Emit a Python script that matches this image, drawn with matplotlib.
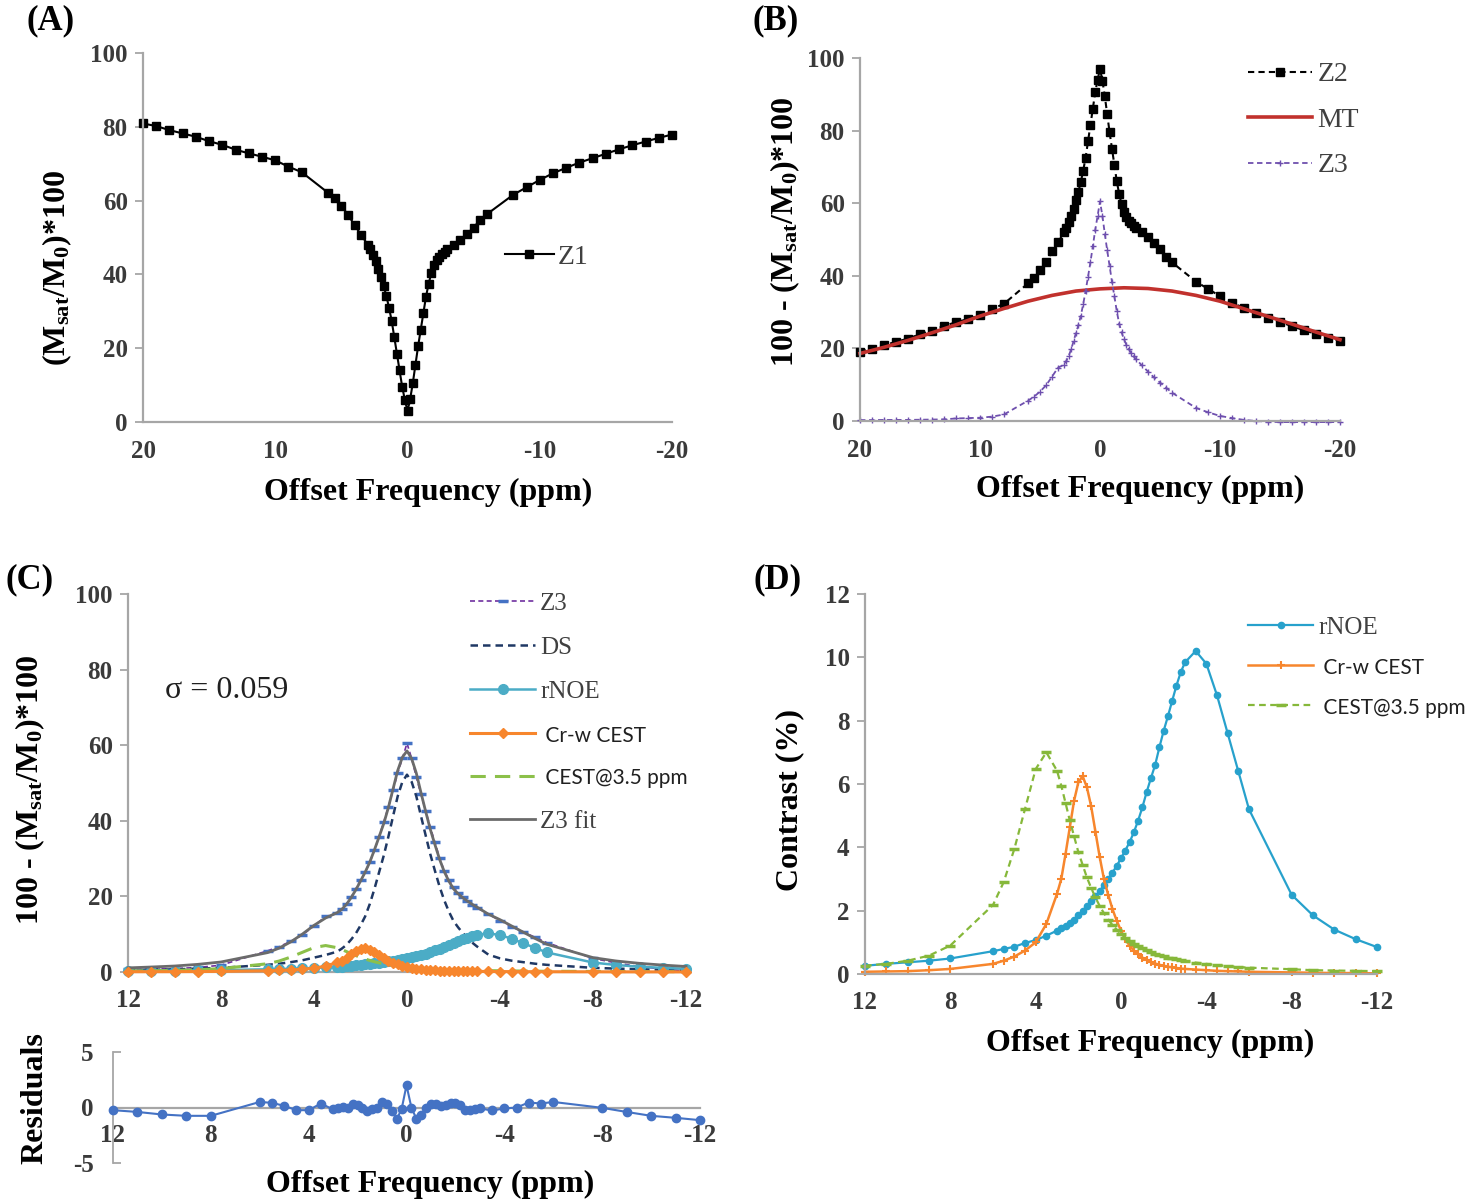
import matplotlib
matplotlib.use('Agg')
import matplotlib.pyplot as plt
from matplotlib.lines import Line2D

plt.rcParams['font.family'] = ['Liberation Serif', 'DejaVu Serif']
plt.rcParams['mathtext.fontset'] = 'custom'
plt.rcParams['mathtext.rm'] = 'Liberation Serif:bold'
plt.rcParams['mathtext.it'] = 'Liberation Serif:bold'
plt.rcParams['mathtext.bf'] = 'Liberation Serif:bold'
plt.rcParams['mathtext.default'] = 'rm'

# ---------------- data ----------------
ppm_ab = [20, 19, 18, 17, 16, 15, 14, 13, 12, 11, 10, 9, 8,
          6, 5.5, 5, 4.5, 4, 3.5,
          3.0, 2.8, 2.6, 2.4, 2.2, 2.0, 1.8, 1.6, 1.4, 1.2, 1.0, 0.8, 0.6, 0.4, 0.2, 0.0,
          -0.2, -0.4, -0.6, -0.8, -1.0, -1.2, -1.4, -1.6, -1.8, -2.0, -2.2, -2.4, -2.6, -2.8, -3.0,
          -3.5, -4, -4.5, -5, -5.5, -6,
          -8, -9, -10, -11, -12, -13, -14, -15, -16, -17, -18, -19, -20]

z1 = [80.9, 80.2, 79.1, 78.2, 77.3, 76.1, 75.1, 73.8, 72.8, 71.9, 70.9, 69.2, 67.7,
      62.1, 60.7, 58.5, 56.2, 53.3, 50.7,
      48.0, 46.8, 45.2, 43.5, 41.5, 39.2, 36.8, 34.2, 31.0, 27.5, 23.0, 18.5, 14.0, 9.5, 6.0, 3.0,
      6.2, 10.5, 15.5, 20.5, 25.0, 29.5, 34.0, 37.5, 40.3, 42.5, 43.8, 44.8, 45.5, 46.2, 46.8,
      48.0, 49.3, 51.0, 52.7, 54.8, 56.3,
      61.6, 63.6, 65.6, 67.4, 68.9, 70.3, 71.5, 72.7, 73.9, 75.0, 76.0, 77.0, 77.9]

z3 = [0.25, 0.25, 0.3, 0.3, 0.3, 0.35, 0.4, 0.45, 0.7, 0.8, 0.9, 1.2, 1.8,
      5.6, 6.7, 8.1, 9.8, 12.2, 14.7,
      15.5, 16.6, 18.0, 19.8, 22.0, 24.3, 26.4, 29.0, 32.2, 35.8, 39.7, 43.7, 48.1, 52.6, 56.5, 60.5,
      56.5, 51.6, 47.0, 42.7, 38.3, 34.3, 30.2, 26.8, 24.4, 22.5, 21.0, 19.8, 18.7, 17.8, 17.0,
      15.3, 13.6, 12.0, 10.6, 9.2, 7.8,
      3.6, 2.4, 1.4, 0.8, 0.3, 0.0, -0.2, -0.3, -0.3, -0.3, -0.3, -0.3, -0.3]

ppm_mt = [20, 18, 16, 14, 12, 10, 8, 6, 4, 2, 0, -2, -4, -6, -8, -10, -12, -14, -16, -18, -20]
mt = [18.6, 20.3, 22.2, 24.3, 26.5, 28.9, 31.0, 33.0, 34.6, 35.8, 36.4, 36.7, 36.5, 35.8,
      34.6, 33.0, 30.9, 28.8, 26.7, 24.5, 22.4]

ppm_cd = [12, 11, 10, 9, 8, 6, 5.5, 5, 4.5, 4, 3.5,
          3.0, 2.8, 2.6, 2.4, 2.2, 2.0, 1.8, 1.6, 1.4, 1.2, 1.0, 0.8, 0.6, 0.4, 0.2, 0.0,
          -0.2, -0.4, -0.6, -0.8, -1.0, -1.2, -1.4, -1.6, -1.8, -2.0, -2.2, -2.4, -2.6, -2.8, -3.0,
          -3.5, -4, -4.5, -5, -5.5, -6, -8, -9, -10, -11, -12]

ds = [0.5, 0.6, 0.7, 0.9, 1.1, 1.9, 2.2, 2.6, 3.1, 3.8, 4.5,
      5.4, 6.2, 7.2, 8.6, 10.2, 12.3, 14.7, 18.0, 22.0, 26.4, 30.8, 35.8, 41.2, 46.5, 50.3, 52.2,
      50.3, 46.5, 41.3, 36.2, 31.2, 26.8, 22.6, 19.0, 16.0, 13.5, 11.8, 10.3, 9.0, 7.8, 6.8,
      4.6, 3.6, 3.0, 2.6, 2.2, 1.9, 1.1, 0.9, 0.75, 0.6, 0.5]

rnoe = [0.26, 0.32, 0.37, 0.42, 0.49, 0.72, 0.79, 0.86, 0.98, 1.07, 1.21,
        1.37, 1.45, 1.53, 1.62, 1.72, 1.85, 2.0, 2.14, 2.3, 2.46, 2.62, 2.8, 3.0, 3.2, 3.42, 3.65,
        3.9, 4.16, 4.47, 4.84, 5.26, 5.74, 6.18, 6.6, 7.16, 7.68, 8.14, 8.63, 9.11, 9.53, 9.84,
        10.2, 9.8, 8.8, 7.6, 6.4, 5.2, 2.5, 1.85, 1.4, 1.1, 0.85]

crw = [0.07, 0.08, 0.09, 0.12, 0.16, 0.32, 0.42, 0.55, 0.74, 1.0, 1.58,
       2.53, 3.0, 3.79, 4.63, 5.47, 6.05, 6.25, 5.9, 5.3, 4.5, 3.7, 3.0, 2.5, 2.05, 1.68, 1.37,
       1.1, 0.9, 0.74, 0.62, 0.52, 0.44, 0.38, 0.33, 0.29, 0.26, 0.23, 0.21, 0.19, 0.17, 0.16,
       0.14, 0.12, 0.1, 0.09, 0.08, 0.07, 0.05, 0.04, 0.03, 0.03, 0.02]

cest35 = [0.26, 0.32, 0.42, 0.58, 0.9, 2.18, 2.9, 3.95, 5.21, 6.47, 7.0,
          6.42, 5.95, 5.4, 4.85, 4.35, 3.85, 3.45, 3.05, 2.72, 2.42, 2.15, 1.92, 1.72, 1.55, 1.4, 1.27,
          1.15, 1.05, 0.96, 0.88, 0.81, 0.75, 0.69, 0.64, 0.6, 0.56, 0.52, 0.49, 0.46, 0.43, 0.41,
          0.36, 0.32, 0.28, 0.25, 0.22, 0.2, 0.15, 0.12, 0.11, 0.1, 0.09]

resid = [-0.24, -0.4, -0.63, -0.75, -0.75, 0.5, 0.42, 0.15, -0.24, -0.24, 0.36,
         -0.18, -0.03, 0.06, -0.09, 0.3, 0.2, -0.03, -0.33, -0.18, -0.03, 0.5, 0.33, -0.33, -1.05, -0.15, 2.0,
         0.0, -1.0, -0.7, -0.03, 0.36, 0.33, 0.12, 0.27, 0.39, 0.45, 0.2, -0.27, -0.24, -0.18, -0.09,
         -0.27, -0.09, 0.0, 0.45, 0.36, 0.5, -0.03, -0.4, -0.75, -0.93, -1.14]

sigma_text = 'σ = 0.059'

z2 = [100 - v for v in z1]                       # 100 - (Msat/M0)*100
z3_c = [v for p, v in zip(ppm_ab, z3) if abs(p) <= 12]
z3_fit = [a + b + c + d for a, b, c, d in zip(ds, rnoe, crw, cest35)]

ticks_ab = [20, 10, 0, -10, -20]
ticks_cd = [12, 8, 4, 0, -4, -8, -12]

# ---------------- styling ----------------
W, H = 1468, 1204
fig = plt.figure(figsize=(W / 100, H / 100), dpi=100)

SPINE = '#A6A6A6'
TICKC = '#3A3A3A'
TS = 18
SANS = ['Lato', 'DejaVu Sans']


def ax_at(x0, x1, y_top, y_bot):
    return fig.add_axes([x0 / W, 1 - y_bot / H, (x1 - x0) / W, (y_bot - y_top) / H])


def style(ax, xt, yt, xlim, ylim, xpad=13):
    for s in ['top', 'right']:
        ax.spines[s].set_visible(False)
    for s in ['left', 'bottom']:
        ax.spines[s].set_color(SPINE)
        ax.spines[s].set_linewidth(1.6)
    ax.set_xlim(*xlim)
    ax.set_ylim(*ylim)
    ax.set_xticks(xt, labels=[str(t) for t in xt], fontweight='bold', fontsize=TS, color=TICKC)
    ax.set_yticks(yt, labels=[str(t) for t in yt], fontweight='bold', fontsize=TS, color=TICKC)
    ax.tick_params(axis='y', direction='out', length=6, width=1.3, color=SPINE, pad=5)
    ax.tick_params(axis='x', length=0, pad=xpad)
    ax.patch.set_alpha(0)


def ftext(x, y, s, **kw):
    fig.text(x / W, 1 - y / H, s, ha='center', va='center', **kw)


LBL = 23
YLBL = '100 - (M$_{sat}$/M$_0$)*100'

# ---------------- Panel A ----------------
axA = ax_at(143, 672, 53, 422)
style(axA, ticks_ab, [0, 20, 40, 60, 80, 100], (20, -20), (0, 100))
axA.plot(ppm_ab, z1, color='black', lw=1.5, marker='s', ms=5.5, clip_on=False, label='Z1')
axA.legend(loc='center left', bbox_to_anchor=(505 / W, 1 - 257 / H), bbox_transform=fig.transFigure,
           frameon=False, fontsize=20, handlelength=1.75, handletextpad=0.15, borderpad=0,
           borderaxespad=0, labelcolor='#404040')
ftext(57, 268, '(M$_{sat}$/M$_0$)*100', rotation=90, fontsize=LBL, fontweight='bold')
ftext(428, 492, 'Offset Frequency (ppm)', fontsize=LBL, fontweight='bold')
ftext(51, 21, '(A)', fontsize=25, fontweight='bold')

# ---------------- Panel B ----------------
axB = ax_at(860, 1340, 58, 421)
style(axB, ticks_ab, [0, 20, 40, 60, 80, 100], (20, -20), (0, 100))
axB.plot(ppm_ab, z2, color='black', lw=1.5, ls=(0, (3, 2)), marker='s', ms=5.5, clip_on=False, label='Z2')
axB.plot(ppm_mt, mt, color='#C1312D', lw=2.6, clip_on=False, label='MT')
axB.plot(ppm_ab, z3, color='#6E4FAE', lw=1.3, ls=(0, (3, 2)), marker='+', ms=4, mew=1,
         clip_on=False, label='Z3')
axB.legend(loc='upper left', bbox_to_anchor=(1248 / W, 1 - 62 / H), bbox_transform=fig.transFigure,
           frameon=False, fontsize=20, handlelength=2.3, handletextpad=0.2, borderpad=0,
           borderaxespad=0, labelspacing=0.72, labelcolor='#404040')
ftext(785, 232, YLBL, rotation=90, fontsize=LBL, fontweight='bold')
ftext(1140, 489, 'Offset Frequency (ppm)', fontsize=LBL, fontweight='bold')
ftext(776, 21, '(B)', fontsize=25, fontweight='bold')

# ---------------- Panel C ----------------
axC = ax_at(128, 686, 594, 972)
style(axC, ticks_cd, [0, 20, 40, 60, 80, 100], (12, -12), (0, 100), xpad=12)
cz3, = axC.plot(ppm_cd, z3_c, color='#7030A0', lw=1.2, ls=(0, (3, 2)), marker='_', ms=7, mew=2.5,
                mec='#4472C4', clip_on=False, label='Z3', zorder=3)
cds, = axC.plot(ppm_cd, ds, color='#1F3864', lw=1.8, ls=(0, (3, 2)), clip_on=False, label='DS', zorder=3)
crn, = axC.plot(ppm_cd, rnoe, color='#4BACC6', lw=1.8, marker='o', ms=7, clip_on=False, label='rNOE', zorder=4)
ccr, = axC.plot(ppm_cd, crw, color='#F7862D', lw=2.2, marker='D', ms=5, clip_on=False,
                label=' Cr-w CEST', zorder=5)
cce, = axC.plot(ppm_cd, cest35, color='#8CC04A', lw=2.2, ls=(0, (5, 3)), clip_on=False,
                label=' CEST@3.5 ppm', zorder=4)
cft, = axC.plot(ppm_cd, z3_fit, color='#6B6B6B', lw=2.0, clip_on=False, label='Z3 fit', zorder=4)
legC = axC.legend(handles=[cz3, cds, crn, ccr, cce, cft], loc='upper left',
                  bbox_to_anchor=(470 / W, 1 - 592 / H), bbox_transform=fig.transFigure,
                  frameon=False, fontsize=18, handlelength=2.6, handletextpad=0.2, borderpad=0,
                  borderaxespad=0, labelspacing=0.86, labelcolor='#404040')
for t in legC.get_texts()[3:5]:
    t.set_fontfamily(SANS)
    t.set_fontsize(15)
    t.set_color('#202020')
axC.text(10.4, 74.5, sigma_text, ha='left', va='center', fontsize=23, color='#202020')
ftext(30, 790, YLBL, rotation=90, fontsize=LBL, fontweight='bold')
ftext(30, 580, '(C)', fontsize=25, fontweight='bold')

# ---------------- Residuals ----------------
axR = ax_at(113, 700, 1052, 1163)
for s in ['top', 'right']:
    axR.spines[s].set_visible(False)
axR.spines['left'].set_color(SPINE)
axR.spines['left'].set_linewidth(1.3)
axR.spines['bottom'].set_position(('data', 0))
axR.spines['bottom'].set_color(SPINE)
axR.spines['bottom'].set_linewidth(1.6)
axR.set_xlim(12, -12)
axR.set_ylim(-5, 5)
axR.set_xticks(ticks_cd, labels=[str(t) for t in ticks_cd], fontweight='bold', fontsize=TS, color=TICKC)
axR.set_yticks([-5, 0, 5], labels=['-5', '0', '5'], fontweight='bold', fontsize=TS, color=TICKC)
axR.tick_params(axis='y', direction='in', length=6, width=1.3, color=SPINE, pad=14)
axR.tick_params(axis='x', length=0, pad=12)
axR.patch.set_alpha(0)
axR.plot(ppm_cd, resid, color='#4472C4', lw=1.5, marker='o', ms=6, clip_on=False, zorder=3)
ftext(35, 1098, 'Residuals', rotation=90, fontsize=LBL, fontweight='bold')
ftext(430, 1184, 'Offset Frequency (ppm)', fontsize=LBL, fontweight='bold')

# ---------------- Panel D ----------------
axD = ax_at(865, 1377, 594, 974)
style(axD, ticks_cd, [0, 2, 4, 6, 8, 10, 12], (12, -12), (0, 12), xpad=12)
drn, = axD.plot(ppm_cd, rnoe, color='#27A1CC', lw=1.6, marker='o', ms=4.5, clip_on=False, label='rNOE')
dcr, = axD.plot(ppm_cd, crw, color='#F7862D', lw=1.8, marker='+', ms=6, mew=1.5, clip_on=False,
                label=' Cr-w CEST')
dce, = axD.plot(ppm_cd, cest35, color='#86B83A', lw=1.6, ls=(0, (3, 2)), marker='_', ms=7, mew=2.5,
                clip_on=False, label=' CEST@3.5 ppm')
legD = axD.legend(handles=[drn, dcr, dce], loc='upper left',
                  bbox_to_anchor=(1248 / W, 1 - 616 / H), bbox_transform=fig.transFigure,
                  frameon=False, fontsize=18, handlelength=2.6, handletextpad=0.2, borderpad=0,
                  borderaxespad=0, labelspacing=0.72, labelcolor='#404040')
for t in legD.get_texts()[1:]:
    t.set_fontfamily(SANS)
    t.set_fontsize(15)
    t.set_color('#202020')
ftext(790, 800, 'Contrast (%)', rotation=90, fontsize=LBL, fontweight='bold')
ftext(1150, 1043, 'Offset Frequency (ppm)', fontsize=LBL, fontweight='bold')
ftext(778, 580, '(D)', fontsize=25, fontweight='bold')

fig.savefig('out.png', dpi=100)
